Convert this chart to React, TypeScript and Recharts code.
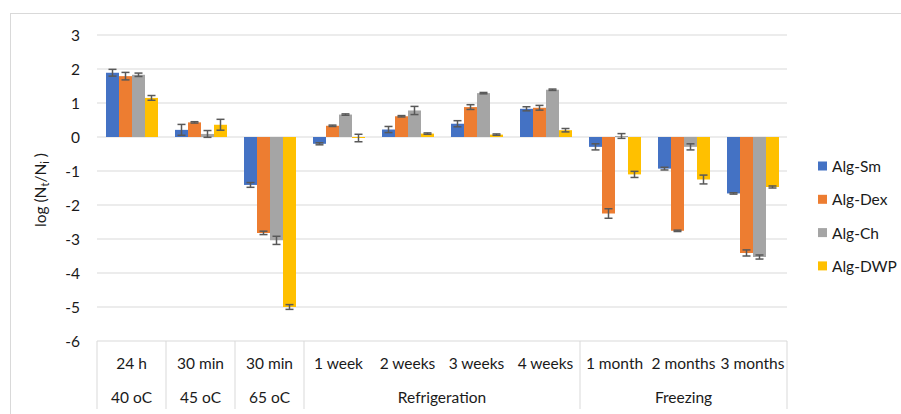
import React from "react";
import { BarChart, Bar, XAxis, YAxis, CartesianGrid, ErrorBar, Legend } from "recharts";

const categories = ["24 h", "30 min", "30 min", "1 week", "2 weeks", "3 weeks", "4 weeks", "1 month", "2 months", "3 months"];
const groups = [
  { label: "40 oC", start: 0, size: 1 },
  { label: "45 oC", start: 1, size: 1 },
  { label: "65 oC", start: 2, size: 1 },
  { label: "Refrigeration", start: 3, size: 4 },
  { label: "Freezing", start: 7, size: 3 },
];
const seriesNames = ["Alg-Sm", "Alg-Dex", "Alg-Ch", "Alg-DWP"];
const seriesColors = ["#4472C4", "#ED7D31", "#A5A5A5", "#FFC000"];

const algSm = [1.89, 0.21, -1.41, -0.2, 0.22, 0.39, 0.83, -0.29, -0.93, -1.66];
const algSmErr = [0.1, 0.16, 0.07, 0.03, 0.09, 0.09, 0.06, 0.09, 0.04, 0.02];
const algDex = [1.79, 0.43, -2.82, 0.33, 0.61, 0.88, 0.86, -2.25, -2.76, -3.41];
const algDexErr = [0.11, 0.02, 0.05, 0.02, 0.02, 0.07, 0.07, 0.14, 0.02, 0.09];
const algCh = [1.83, 0.09, -3.04, 0.66, 0.78, 1.29, 1.39, 0.03, -0.29, -3.53];
const algChErr = [0.05, 0.1, 0.12, 0.02, 0.12, 0.02, 0.02, 0.07, 0.09, 0.06];
const algDwp = [1.15, 0.36, -5.0, -0.03, 0.1, 0.07, 0.2, -1.1, -1.25, -1.47];
const algDwpErr = [0.07, 0.16, 0.07, 0.11, 0.02, 0.02, 0.05, 0.09, 0.13, 0.03];

const yTicks = [-6, -5, -4, -3, -2, -1, 0, 1, 2, 3];

const data = categories.map((c, i) => ({
  key: `${i}`,
  s0: algSm[i],
  e0: algSmErr[i],
  s1: algDex[i],
  e1: algDexErr[i],
  s2: algCh[i],
  e2: algChErr[i],
  s3: algDwp[i],
  e3: algDwpErr[i],
}));

const W = 901;
const H = 414;
const MARGIN = { top: 35, right: 114, bottom: 0, left: 10 };
const Y_AXIS_W = 87;
const X_AXIS_H = 73;
const BAND = (W - MARGIN.left - Y_AXIS_W - MARGIN.right) / categories.length;
const FONT = "Lato, 'Noto Sans', sans-serif";
const FS = 15.5;
const TEXT = "#1a1a1a";
const LINE = "#d9d9d9";

const XTick = (props: any) => {
  const { x, y, payload } = props;
  const i = Number(payload.value);
  const left = x - BAND / 2;
  const els: any[] = [];
  els.push(
    <text key="t" x={x} y={y + 22} textAnchor="middle" dominantBaseline="central" fontFamily={FONT} fontSize={FS} fill={TEXT}>
      {categories[i]}
    </text>
  );
  const g = groups.find((gr) => gr.start === i);
  if (g) {
    els.push(<line key="l" x1={left} x2={left} y1={y} y2={y + 68} stroke={LINE} strokeWidth={1} />);
    els.push(
      <text key="g" x={left + (g.size * BAND) / 2} y={y + 56} textAnchor="middle" dominantBaseline="central" fontFamily={FONT} fontSize={FS} fill={TEXT}>
        {g.label}
      </text>
    );
  }
  if (i === categories.length - 1) {
    els.push(<line key="r" x1={left + BAND} x2={left + BAND} y1={y} y2={y + 68} stroke={LINE} strokeWidth={1} />);
  }
  return <g>{els}</g>;
};

const YLabel = (props: any) => {
  const vb = props.viewBox || { x: 10, y: 35, width: 87, height: 306 };
  const cx = vb.x + 30;
  const cy = vb.y + vb.height / 2 + 2;
  return (
    <text x={cx} y={cy} transform={`rotate(-90, ${cx}, ${cy})`} textAnchor="middle" dominantBaseline="central" fontFamily={FONT} fontSize={FS} fill={TEXT}>
      <tspan>log (N</tspan>
      <tspan dy={4} fontSize={11}>t</tspan>
      <tspan dy={-4}>/N</tspan>
      <tspan dy={4} fontSize={11}>i</tspan>
      <tspan dy={-4}> )</tspan>
    </text>
  );
};

const LegendContent = () => (
  <svg width={83} height={134} style={{ display: "block", overflow: "visible" }}>
    {seriesNames.map((n, k) => (
      <g key={n} transform={`translate(0, ${17 + k * 33.3})`}>
        <rect x={0} y={-4.5} width={9} height={9} fill={seriesColors[k]} />
        <text x={14} y={0} dominantBaseline="central" fontFamily={FONT} fontSize={15.5} fill={TEXT}>
          {n}
        </text>
      </g>
    ))}
  </svg>
);

export default function App() {
  return (
    <div style={{ width: W, height: H, position: "relative", overflow: "hidden", background: "#fff" }}>
      <style>{"html,body{overflow:hidden;margin:0;padding:0}"}</style>
      <div style={{ position: "absolute", left: 10, top: 13, width: 2000, height: 2000, border: `1px solid ${LINE}`, boxSizing: "border-box" }} />
      <div style={{ position: "absolute", left: 0, top: 0 }}>
        <BarChart width={W} height={H} data={data} margin={MARGIN} barCategoryGap={9} barGap={0}>
          <CartesianGrid vertical={false} stroke={LINE} strokeWidth={1} />
          <XAxis
            dataKey="key"
            height={X_AXIS_H}
            axisLine={false}
            tickLine={false}
            tickSize={0}
            tickMargin={0}
            interval={0}
            tick={<XTick />}
          />
          <YAxis
            width={Y_AXIS_W}
            domain={[-6, 3]}
            ticks={yTicks}
            interval={0}
            axisLine={false}
            tickLine={false}
            tickSize={0}
            tickMargin={17}
            tick={{ fontFamily: FONT, fontSize: FS, fill: TEXT }}
            label={(p: any) => <YLabel {...p} />}
          />
          <Legend
            layout="vertical"
            align="center"
            verticalAlign="middle"
            content={<LegendContent />}
            wrapperStyle={{ position: "absolute", left: 818, top: 149, width: 83, height: 134, right: "auto", bottom: "auto", margin: 0, overflow: "visible" }}
          />
          {seriesNames.map((n, k) => (
            <Bar key={n} dataKey={`s${k}`} name={n} fill={seriesColors[k]} isAnimationActive={false}>
              <ErrorBar dataKey={`e${k}`} width={4} stroke="#595959" strokeWidth={1.5} direction="y" />
            </Bar>
          ))}
        </BarChart>
      </div>
    </div>
  );
}
